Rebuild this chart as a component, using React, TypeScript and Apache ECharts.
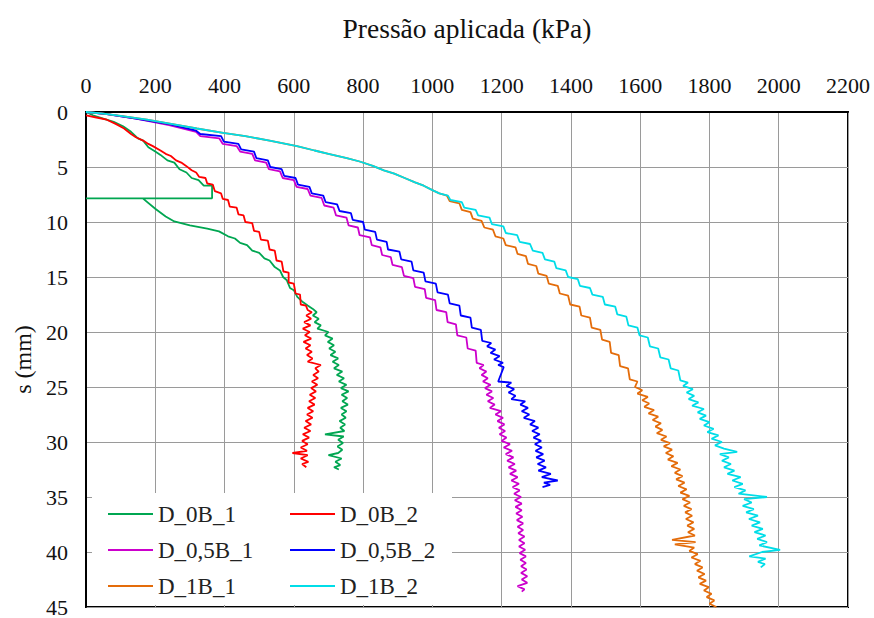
import React, { useEffect, useRef } from "react";
import * as echarts from "echarts";

const X_MIN = 0;
const X_MAX = 2200;
const X_STEP = 200;
const Y_MIN = 0;
const Y_MAX = 45;
const Y_STEP = 5;

const xTitle = "Pressão aplicada (kPa)";
const yTitle = "s (mm)";

const names = ["D_0B_1", "D_0B_2", "D_0,5B_1", "D_0,5B_2", "D_1B_1", "D_1B_2"];
const colors = ["#00A651", "#FF0000", "#CC00CC", "#0000FF", "#E46C0A", "#00DDE8"];

// [pressure kPa, settlement mm]
const d0B1 = [
  [0, 0], [20, 0.3], [50, 0.6], [80, 0.9], [107, 1.3], [130, 1.8], [150, 2.4], [165, 2.6], [180, 3.2],
  [200, 3.6], [215, 3.9], [235, 4.4], [255, 4.6], [270, 5.2], [290, 5.5], [305, 6.0], [325, 6.2],
  [340, 6.7], [364, 6.7], [364, 7.85], [0, 7.85], [164, 7.85], [200, 8.8], [230, 9.5], [255, 9.95],
  [300, 10.3], [350, 10.6], [384, 10.85], [410, 11.3], [430, 11.5], [445, 11.9], [465, 12.1],
  [480, 12.6], [500, 12.8], [515, 13.3], [530, 13.5], [545, 14.1], [560, 14.4], [569, 15.0],
  [580, 15.3], [589, 16.0], [600, 16.2], [610, 16.8], [627, 17.3], [640, 17.6], [655, 17.9],
  [666, 18.2], [655, 18.5], [672, 18.8], [660, 19.1], [678, 19.4], [668, 19.7], [700, 20.0],
  [690, 20.3], [712, 20.6], [698, 20.9], [716, 21.2], [702, 21.5], [720, 21.8], [706, 22.1],
  [728, 22.4], [712, 22.7], [730, 23.0], [716, 23.3], [740, 23.6], [724, 23.9], [745, 24.2],
  [730, 24.5], [752, 24.8], [736, 25.1], [758, 25.4], [738, 25.7], [754, 26.0], [740, 26.3],
  [756, 26.6], [736, 26.9], [752, 27.2], [738, 27.5], [750, 27.8], [732, 28.1], [748, 28.4],
  [734, 28.7], [746, 29.0], [690, 29.3], [744, 29.5], [728, 29.8], [742, 30.1], [726, 30.4],
  [740, 30.7], [728, 31.0], [700, 31.2], [738, 31.5], [720, 31.8], [734, 32.1], [716, 32.3],
  [730, 32.5],
];

const d0B2 = [
  [0, 0.3], [30, 0.5], [60, 0.7], [87, 1.1], [110, 1.5], [130, 2.0], [144, 2.3], [165, 2.6], [180, 2.9],
  [193, 3.1], [215, 3.5], [230, 3.8], [245, 4.0], [260, 4.4], [275, 4.6], [289, 4.9], [305, 5.3],
  [318, 5.5], [327, 5.9], [345, 6.0], [350, 6.5], [366, 6.6], [372, 7.2], [390, 7.4], [395, 7.9],
  [410, 8.0], [415, 8.6], [435, 8.7], [440, 9.3], [455, 9.4], [460, 10.0], [480, 10.1], [485, 10.8],
  [500, 10.9], [505, 11.6], [525, 11.7], [530, 12.5], [545, 12.6], [550, 13.5], [565, 13.6],
  [570, 14.5], [585, 14.6], [585, 15.5], [600, 15.6], [605, 16.5], [618, 16.6], [620, 17.5],
  [635, 17.6], [640, 18.0], [652, 18.2], [636, 18.5], [650, 18.8], [630, 19.1], [648, 19.4],
  [626, 19.7], [646, 20.0], [632, 20.3], [650, 20.6], [628, 20.9], [648, 21.2], [634, 21.5],
  [652, 21.8], [638, 22.1], [654, 22.4], [640, 22.7], [678, 23.0], [662, 23.3], [672, 23.6],
  [656, 23.9], [670, 24.2], [652, 24.5], [668, 24.8], [650, 25.1], [664, 25.4], [646, 25.7],
  [662, 26.0], [644, 26.3], [660, 26.6], [640, 26.9], [656, 27.2], [638, 27.5], [654, 27.8],
  [634, 28.1], [650, 28.4], [630, 28.7], [648, 29.0], [626, 29.3], [644, 29.6], [624, 29.9],
  [640, 30.2], [620, 30.5], [638, 30.8], [596, 31.0], [640, 31.2], [620, 31.5], [642, 31.8],
  [624, 32.0], [636, 32.3],
];

const d05B1 = [
  [0, 0], [60, 0.2], [144, 0.6], [240, 1.2], [318, 1.8], [330, 2.2], [385, 2.4], [395, 2.9], [435, 3.1],
  [445, 3.6], [480, 3.8], [488, 4.4], [520, 4.6], [528, 5.2], [560, 5.4], [568, 6.0], [600, 6.2],
  [608, 6.8], [640, 7.0], [648, 7.6], [680, 7.8], [688, 8.5], [715, 8.7], [722, 9.4], [752, 9.6],
  [758, 10.3], [785, 10.5], [790, 11.2], [820, 11.4], [825, 12.1], [850, 12.3], [855, 13.0],
  [880, 13.2], [885, 13.9], [912, 14.1], [918, 14.9], [945, 15.1], [950, 15.9], [978, 16.1],
  [982, 16.9], [1008, 17.1], [1012, 18.0], [1040, 18.2], [1044, 19.1], [1068, 19.3], [1072, 20.3],
  [1098, 20.5], [1102, 21.5], [1125, 21.7], [1128, 22.8], [1148, 23.0], [1136, 23.3], [1156, 23.6],
  [1142, 23.9], [1160, 24.2], [1146, 24.5], [1168, 24.8], [1152, 25.1], [1172, 25.4], [1156, 25.7],
  [1176, 26.0], [1160, 26.3], [1180, 26.6], [1166, 26.9], [1198, 27.2], [1182, 27.5], [1204, 27.8],
  [1188, 28.1], [1208, 28.4], [1192, 28.7], [1210, 29.0], [1194, 29.3], [1214, 29.6], [1200, 29.9],
  [1224, 30.2], [1206, 30.5], [1230, 30.8], [1212, 31.1], [1234, 31.4], [1216, 31.7], [1238, 32.0],
  [1220, 32.3], [1242, 32.6], [1224, 32.9], [1246, 33.2], [1228, 33.5], [1250, 33.8], [1232, 34.1],
  [1252, 34.4], [1236, 34.7], [1256, 35.0], [1238, 35.3], [1258, 35.6], [1240, 35.9], [1258, 36.2],
  [1242, 36.5], [1260, 36.8], [1244, 37.1], [1262, 37.4], [1246, 37.7], [1262, 38.0], [1248, 38.3],
  [1266, 38.6], [1250, 38.9], [1266, 39.2], [1250, 39.5], [1268, 39.8], [1252, 40.1], [1270, 40.4],
  [1254, 40.7], [1270, 41.0], [1256, 41.3], [1272, 41.6], [1256, 41.9], [1274, 42.2], [1258, 42.5],
  [1274, 42.8], [1246, 43.1], [1266, 43.4], [1258, 43.6],
];

const d05B2 = [
  [0, 0], [60, 0.2], [144, 0.6], [240, 1.1], [318, 1.7], [330, 2.0], [390, 2.2], [398, 2.7], [440, 2.9],
  [448, 3.4], [485, 3.6], [492, 4.2], [525, 4.4], [532, 5.0], [565, 5.2], [572, 5.8], [605, 6.0],
  [612, 6.6], [645, 6.8], [652, 7.4], [685, 7.6], [692, 8.2], [725, 8.4], [732, 9.0], [765, 9.2],
  [770, 9.8], [800, 10.0], [805, 10.7], [835, 10.9], [840, 11.6], [868, 11.8], [872, 12.5],
  [905, 12.7], [910, 13.4], [940, 13.6], [945, 14.4], [975, 14.6], [980, 15.4], [1010, 15.6],
  [1015, 16.4], [1045, 16.6], [1050, 17.4], [1078, 17.6], [1082, 18.5], [1110, 18.7], [1114, 19.6],
  [1140, 19.8], [1144, 20.8], [1170, 21.0], [1158, 21.3], [1182, 21.6], [1168, 21.9], [1194, 22.2],
  [1178, 22.5], [1204, 22.8], [1190, 23.0], [1206, 23.2], [1190, 24.5], [1228, 24.6], [1214, 24.9],
  [1236, 25.2], [1220, 25.5], [1240, 25.8], [1228, 26.1], [1268, 26.3], [1254, 26.6], [1276, 26.9],
  [1258, 27.2], [1280, 27.5], [1264, 27.8], [1296, 28.1], [1282, 28.4], [1306, 28.7], [1288, 29.0],
  [1310, 29.3], [1292, 29.6], [1314, 29.9], [1296, 30.2], [1316, 30.5], [1298, 30.8], [1320, 31.1],
  [1300, 31.4], [1324, 31.7], [1304, 32.0], [1328, 32.3], [1306, 32.6], [1342, 32.9], [1316, 33.2],
  [1362, 33.5], [1322, 33.7], [1340, 33.9], [1318, 34.1],
];

const d1B1 = [
  [0, 0], [50, 0.15], [100, 0.35], [176, 0.7], [250, 1.1], [320, 1.5], [396, 1.9], [460, 2.2],
  [530, 2.6], [609, 3.1], [660, 3.5], [700, 3.8], [753, 4.2], [790, 4.5], [828, 4.9], [860, 5.3],
  [890, 5.6], [920, 6.0], [950, 6.4], [975, 6.7], [1000, 7.1], [1020, 7.4], [1042, 7.6], [1050, 8.1],
  [1078, 8.3], [1085, 8.9], [1110, 9.1], [1117, 9.7], [1142, 9.9], [1150, 10.5], [1175, 10.7],
  [1182, 11.3], [1205, 11.5], [1212, 12.1], [1240, 12.3], [1246, 12.9], [1270, 13.1], [1276, 13.8],
  [1300, 14.0], [1306, 14.7], [1330, 14.9], [1336, 15.6], [1362, 15.8], [1368, 16.5], [1392, 16.7],
  [1398, 17.5], [1425, 17.7], [1430, 18.5], [1455, 18.7], [1460, 19.6], [1485, 19.8], [1490, 20.7],
  [1512, 20.9], [1516, 21.9], [1538, 22.1], [1542, 23.1], [1565, 23.3], [1570, 24.3], [1592, 24.5],
  [1585, 25.0], [1606, 25.3], [1592, 25.6], [1622, 25.9], [1606, 26.2], [1626, 26.5], [1612, 26.8],
  [1640, 27.1], [1624, 27.4], [1652, 27.7], [1636, 28.0], [1660, 28.3], [1644, 28.6], [1664, 28.9],
  [1648, 29.2], [1676, 29.5], [1660, 29.8], [1686, 30.1], [1668, 30.4], [1692, 30.7], [1674, 31.0],
  [1696, 31.3], [1680, 31.6], [1708, 31.9], [1690, 32.2], [1716, 32.5], [1700, 32.8], [1722, 33.1],
  [1704, 33.4], [1728, 33.7], [1710, 34.0], [1734, 34.3], [1716, 34.6], [1742, 34.9], [1722, 35.2],
  [1744, 35.5], [1726, 35.8], [1748, 36.1], [1730, 36.4], [1750, 36.7], [1732, 37.0], [1754, 37.3],
  [1736, 37.6], [1756, 37.9], [1738, 38.2], [1758, 38.5], [1692, 38.9], [1760, 39.1], [1700, 39.3],
  [1756, 39.6], [1742, 39.9], [1766, 40.2], [1748, 40.5], [1774, 40.8], [1758, 41.1], [1780, 41.4],
  [1764, 41.7], [1786, 42.0], [1768, 42.3], [1790, 42.6], [1772, 42.9], [1798, 43.2], [1784, 43.5],
  [1806, 43.8], [1792, 44.1], [1814, 44.4], [1800, 44.7], [1820, 45],
];

const d1B2 = [
  [0, 0], [50, 0.15], [100, 0.35], [176, 0.7], [250, 1.1], [320, 1.5], [396, 1.9], [460, 2.2],
  [530, 2.6], [609, 3.1], [660, 3.5], [700, 3.8], [753, 4.2], [790, 4.5], [828, 4.9], [860, 5.3],
  [890, 5.6], [920, 6.0], [950, 6.4], [975, 6.7], [1000, 7.1], [1020, 7.4], [1045, 7.6], [1052, 8.0],
  [1085, 8.2], [1092, 8.7], [1125, 8.9], [1132, 9.4], [1165, 9.6], [1172, 10.2], [1205, 10.4],
  [1212, 11.0], [1245, 11.2], [1252, 11.8], [1282, 12.0], [1290, 12.6], [1318, 12.8], [1325, 13.4],
  [1352, 13.6], [1358, 14.2], [1385, 14.4], [1392, 15.0], [1420, 15.2], [1426, 15.8], [1455, 16.0],
  [1462, 16.6], [1492, 16.8], [1498, 17.5], [1528, 17.7], [1534, 18.4], [1560, 18.6], [1566, 19.4],
  [1592, 19.6], [1598, 20.3], [1622, 20.5], [1628, 21.3], [1652, 21.5], [1658, 22.3], [1682, 22.5],
  [1688, 23.3], [1710, 23.5], [1716, 24.4], [1738, 24.6], [1724, 24.9], [1752, 25.2], [1734, 25.5],
  [1756, 25.8], [1740, 26.1], [1768, 26.4], [1750, 26.7], [1784, 27.0], [1766, 27.3], [1790, 27.6],
  [1772, 27.9], [1800, 28.2], [1784, 28.5], [1812, 28.8], [1794, 29.1], [1826, 29.4], [1806, 29.7],
  [1836, 30.0], [1816, 30.3], [1842, 30.6], [1880, 30.9], [1830, 31.1], [1856, 31.4], [1836, 31.7],
  [1862, 32.0], [1842, 32.3], [1872, 32.6], [1852, 32.9], [1890, 33.2], [1866, 33.5], [1896, 33.8],
  [1872, 34.1], [1904, 34.4], [1884, 34.7], [1966, 35.0], [1900, 35.2], [1922, 35.5], [1896, 35.8],
  [1928, 36.1], [1906, 36.4], [1940, 36.7], [1914, 37.0], [1946, 37.3], [1922, 37.6], [1954, 37.9],
  [1930, 38.2], [1962, 38.5], [1938, 38.8], [1966, 39.1], [1944, 39.4], [2004, 39.8], [1952, 40.0],
  [1915, 40.4], [1962, 40.6], [1940, 40.9], [1960, 41.1], [1948, 41.4],
];

const seriesData = [d0B1, d0B2, d05B1, d05B2, d1B1, d1B2];

const FONT = "Times New Roman";

export default function App() {
  const ref = useRef<HTMLDivElement>(null);
  useEffect(() => {
    if (!ref.current) return;
    const chart = echarts.init(ref.current, null, { renderer: "svg" });
    const legendCommon = {
      orient: "vertical",
      padding: 0,
      icon: "rect",
      itemWidth: 45,
      itemHeight: 2,
      itemGap: 12,
      selectedMode: false,
      textStyle: { fontFamily: FONT, fontSize: 23, color: "#222", lineHeight: 24 },
    };
    chart.setOption({
      animation: false,
      backgroundColor: "#fff",
      textStyle: { fontFamily: FONT },
      grid: {
        left: 86,
        top: 112,
        width: 762,
        height: 500,
        show: true,
        borderColor: "#000",
        borderWidth: 2,
        backgroundColor: "transparent",
      },
      xAxis: {
        type: "value",
        position: "top",
        min: X_MIN,
        max: X_MAX,
        interval: X_STEP,
        name: xTitle,
        nameLocation: "middle",
        nameGap: 70,
        nameTextStyle: { fontFamily: FONT, fontSize: 27.5, color: "#111" },
        axisLine: { show: true, lineStyle: { color: "#000", width: 2 } },
        axisTick: { show: false },
        axisLabel: {
          fontFamily: FONT,
          fontSize: 22,
          color: "#111",
          margin: 16,
          formatter: (v: number) => String(v),
        },
        splitLine: { show: true, lineStyle: { color: "#9a9a9a", width: 1 } },
      },
      yAxis: {
        type: "value",
        inverse: true,
        min: Y_MIN,
        max: Y_MAX,
        interval: Y_STEP,
        name: yTitle,
        nameLocation: "middle",
        nameGap: 44,
        nameRotate: 90,
        nameTextStyle: { fontFamily: FONT, fontSize: 24, color: "#111" },
        axisLine: { show: true, lineStyle: { color: "#000", width: 2 } },
        axisTick: { show: false },
        axisLabel: {
          fontFamily: FONT,
          fontSize: 22,
          color: "#111",
          margin: 18,
          formatter: (v: number) => String(v),
        },
        splitLine: { show: true, lineStyle: { color: "#9a9a9a", width: 1 } },
      },
      graphic: [
        {
          type: "rect",
          z: 1,
          shape: { x: 92, y: 493, width: 360, height: 112 },
          style: { fill: "#fff" },
          silent: true,
        },
      ],
      legend: [
        { ...legendCommon, left: 108, top: 502, data: [names[0], names[2], names[4]] },
        { ...legendCommon, left: 290, top: 502, data: [names[1], names[3], names[5]] },
      ],
      series: seriesData.map((d, i) => ({
        name: names[i],
        type: "line",
        data: d,
        symbol: "none",
        showSymbol: false,
        z: 2 + i,
        color: colors[i],
        lineStyle: { color: colors[i], width: 1.8 },
      })),
    });
    return () => chart.dispose();
  }, []);
  return (
    <div
      ref={ref}
      style={{ position: "fixed", left: 0, top: 0, width: 874, height: 618, background: "#fff" }}
    />
  );
}
